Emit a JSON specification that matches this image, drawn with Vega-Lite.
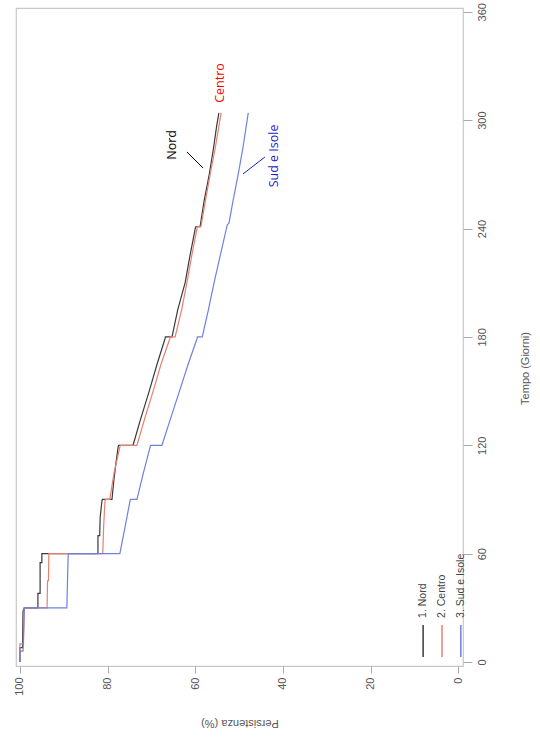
{
  "$schema": "https://vega.github.io/schema/vega-lite/v6.json",
  "autosize": {"type": "none"},
  "padding": {"left": 16, "top": 8, "right": 77, "bottom": 74},
  "width": 447,
  "height": 658,
  "background": "white",
  "config": {"view": {"stroke": "#c8c8c8", "strokeWidth": 1.2}, "font": "Liberation Sans"},
  "datasets": {
    "curves": [
      {"g": "Nord", "t": 0, "p": 100}, {"g": "Nord", "t": 8, "p": 100}, {"g": "Nord", "t": 8, "p": 99.4}, {"g": "Nord", "t": 28, "p": 99.3}, {"g": "Nord", "t": 30, "p": 99.0}, {"g": "Nord", "t": 30, "p": 95.9}, {"g": "Nord", "t": 38, "p": 95.9}, {"g": "Nord", "t": 38, "p": 95.4}, {"g": "Nord", "t": 55, "p": 95.4}, {"g": "Nord", "t": 55, "p": 95.0}, {"g": "Nord", "t": 60, "p": 95.0}, {"g": "Nord", "t": 60, "p": 82.2}, {"g": "Nord", "t": 70, "p": 82.2}, {"g": "Nord", "t": 70, "p": 81.8}, {"g": "Nord", "t": 80, "p": 81.7}, {"g": "Nord", "t": 89, "p": 81.3}, {"g": "Nord", "t": 90, "p": 81.2}, {"g": "Nord", "t": 90, "p": 79.0}, {"g": "Nord", "t": 100, "p": 78.6}, {"g": "Nord", "t": 110, "p": 78.1}, {"g": "Nord", "t": 119, "p": 77.6}, {"g": "Nord", "t": 120, "p": 77.5}, {"g": "Nord", "t": 120, "p": 74.2}, {"g": "Nord", "t": 135, "p": 72.4}, {"g": "Nord", "t": 150, "p": 70.5}, {"g": "Nord", "t": 165, "p": 68.7}, {"g": "Nord", "t": 179, "p": 66.9}, {"g": "Nord", "t": 180, "p": 66.8}, {"g": "Nord", "t": 180, "p": 65.3}, {"g": "Nord", "t": 195, "p": 64.0}, {"g": "Nord", "t": 210, "p": 62.3}, {"g": "Nord", "t": 225, "p": 61.2}, {"g": "Nord", "t": 240, "p": 60.0}, {"g": "Nord", "t": 241, "p": 59.9}, {"g": "Nord", "t": 241, "p": 58.9}, {"g": "Nord", "t": 255, "p": 58.0}, {"g": "Nord", "t": 270, "p": 56.8}, {"g": "Nord", "t": 285, "p": 55.8}, {"g": "Nord", "t": 297, "p": 55.1}, {"g": "Nord", "t": 304, "p": 54.6},
      {"g": "Centro", "t": 0, "p": 100}, {"g": "Centro", "t": 10, "p": 100}, {"g": "Centro", "t": 10, "p": 99.2}, {"g": "Centro", "t": 30, "p": 99.0}, {"g": "Centro", "t": 30, "p": 93.8}, {"g": "Centro", "t": 45, "p": 93.7}, {"g": "Centro", "t": 45, "p": 93.5}, {"g": "Centro", "t": 60, "p": 93.4}, {"g": "Centro", "t": 60, "p": 81.1}, {"g": "Centro", "t": 75, "p": 80.9}, {"g": "Centro", "t": 89, "p": 80.6}, {"g": "Centro", "t": 90, "p": 80.5}, {"g": "Centro", "t": 90, "p": 79.5}, {"g": "Centro", "t": 105, "p": 78.5}, {"g": "Centro", "t": 119, "p": 77.2}, {"g": "Centro", "t": 120, "p": 77.1}, {"g": "Centro", "t": 120, "p": 73.3}, {"g": "Centro", "t": 135, "p": 71.5}, {"g": "Centro", "t": 150, "p": 69.6}, {"g": "Centro", "t": 165, "p": 67.8}, {"g": "Centro", "t": 179, "p": 65.8}, {"g": "Centro", "t": 180, "p": 65.7}, {"g": "Centro", "t": 180, "p": 64.6}, {"g": "Centro", "t": 195, "p": 63.1}, {"g": "Centro", "t": 210, "p": 61.9}, {"g": "Centro", "t": 225, "p": 60.8}, {"g": "Centro", "t": 240, "p": 59.6}, {"g": "Centro", "t": 241, "p": 59.5}, {"g": "Centro", "t": 241, "p": 58.7}, {"g": "Centro", "t": 255, "p": 57.7}, {"g": "Centro", "t": 270, "p": 56.6}, {"g": "Centro", "t": 285, "p": 55.4}, {"g": "Centro", "t": 304, "p": 54.1},
      {"g": "Sud e Isole", "t": 0, "p": 100}, {"g": "Sud e Isole", "t": 6, "p": 100}, {"g": "Sud e Isole", "t": 6, "p": 99.3}, {"g": "Sud e Isole", "t": 30, "p": 99.0}, {"g": "Sud e Isole", "t": 30, "p": 89.3}, {"g": "Sud e Isole", "t": 59, "p": 89.0}, {"g": "Sud e Isole", "t": 60, "p": 88.9}, {"g": "Sud e Isole", "t": 60, "p": 77.2}, {"g": "Sud e Isole", "t": 75, "p": 76.0}, {"g": "Sud e Isole", "t": 89, "p": 74.9}, {"g": "Sud e Isole", "t": 90, "p": 74.8}, {"g": "Sud e Isole", "t": 90, "p": 73.3}, {"g": "Sud e Isole", "t": 105, "p": 71.8}, {"g": "Sud e Isole", "t": 119, "p": 70.3}, {"g": "Sud e Isole", "t": 120, "p": 70.2}, {"g": "Sud e Isole", "t": 120, "p": 67.6}, {"g": "Sud e Isole", "t": 135, "p": 65.6}, {"g": "Sud e Isole", "t": 150, "p": 63.6}, {"g": "Sud e Isole", "t": 165, "p": 61.6}, {"g": "Sud e Isole", "t": 179, "p": 59.6}, {"g": "Sud e Isole", "t": 180, "p": 59.5}, {"g": "Sud e Isole", "t": 180, "p": 58.4}, {"g": "Sud e Isole", "t": 195, "p": 57.0}, {"g": "Sud e Isole", "t": 210, "p": 55.7}, {"g": "Sud e Isole", "t": 225, "p": 54.3}, {"g": "Sud e Isole", "t": 242, "p": 52.7}, {"g": "Sud e Isole", "t": 243, "p": 52.3}, {"g": "Sud e Isole", "t": 255, "p": 51.4}, {"g": "Sud e Isole", "t": 270, "p": 50.2}, {"g": "Sud e Isole", "t": 285, "p": 49.1}, {"g": "Sud e Isole", "t": 304, "p": 47.9}
    ],
    "ann": [
      {"g": "Nord", "label": "Nord", "p": 65.3, "t": 286.3},
      {"g": "Centro", "label": "Centro", "p": 54.3, "t": 320.6},
      {"g": "Sud e Isole", "label": "Sud e Isole", "p": 42.0, "t": 280.2}
    ],
    "lead": [
      {"g": "Nord", "p": 61.9, "t": 282.4, "p2": 58.2, "t2": 273.5},
      {"g": "Sud e Isole", "p": 44.1, "t": 279.6, "p2": 49.1, "t2": 270.2}
    ],
    "leg": [
      {"g": "Nord", "label": "1. Nord", "p": 8.0},
      {"g": "Centro", "label": "2. Centro", "p": 3.7},
      {"g": "Sud e Isole", "label": "3. Sud e Isole", "p": -0.6}
    ]
  },
  "layer": [
    {
      "data": {"name": "curves"},
      "mark": {"type": "line", "strokeWidth": 1.2},
      "encoding": {
        "x": {
          "field": "p", "type": "quantitative",
          "scale": {"domain": [-1.1, 100.9], "reverse": true, "nice": false, "zero": false},
          "axis": {
            "title": "Persistenza (%)", "values": [0, 20, 40, 60, 80, 100],
            "labelAngle": 270, "labelFontSize": 11, "labelColor": "#555555", "labelPadding": 4,
            "tickSize": 7, "tickColor": "#aaaaaa", "domain": false, "grid": false,
            "titleAngle": 180, "titleFontSize": 11, "titleFontWeight": "normal", "titleColor": "#555555",
            "titleY": 56, "titleBaseline": "middle", "titleAlign": "center"
          }
        },
        "y": {
          "field": "t", "type": "quantitative",
          "scale": {"domain": [-2.2, 362.1], "nice": false, "zero": false},
          "axis": {
            "orient": "right", "title": "Tempo (Giorni)", "values": [0, 60, 120, 180, 240, 300, 360],
            "labelAngle": 270, "labelFontSize": 11, "labelColor": "#555555", "labelPadding": 4,
            "tickSize": 9, "tickColor": "#aaaaaa", "domain": false, "grid": false,
            "titleAngle": 270, "titleFontSize": 11, "titleFontWeight": "normal", "titleColor": "#555555",
            "titleX": 62, "titleY": 360, "titleBaseline": "middle", "titleAlign": "center"
          }
        },
        "color": {
          "field": "g", "type": "nominal",
          "scale": {"domain": ["Nord", "Centro", "Sud e Isole"], "range": ["#3a3a3a", "#e8806f", "#7080e0"]},
          "legend": null
        },
        "order": [{"field": "p", "sort": "descending"}, {"field": "t", "sort": "ascending"}]
      }
    },
    {
      "data": {"name": "lead"},
      "mark": {"type": "rule", "strokeWidth": 1},
      "encoding": {
        "x": {"field": "p", "type": "quantitative"},
        "x2": {"field": "p2"},
        "y": {"field": "t", "type": "quantitative"},
        "y2": {"field": "t2"},
        "color": {
          "field": "g", "type": "nominal",
          "scale": {"domain": ["Nord", "Sud e Isole"], "range": ["#000000", "#1a1acc"]},
          "legend": null
        }
      }
    },
    {
      "data": {"name": "ann"},
      "mark": {"type": "text", "angle": 270, "fontSize": 12.5, "font": "Open Sans", "align": "center", "baseline": "middle"},
      "encoding": {
        "x": {"field": "p", "type": "quantitative"},
        "y": {"field": "t", "type": "quantitative"},
        "text": {"field": "label"},
        "color": {
          "field": "g", "type": "nominal",
          "scale": {"domain": ["Nord", "Centro", "Sud e Isole"], "range": ["#000000", "#ff0000", "#1a1acc"]},
          "legend": null
        }
      }
    },
    {
      "data": {"name": "leg"},
      "mark": {"type": "rule", "strokeWidth": 1.5},
      "encoding": {
        "x": {"field": "p", "type": "quantitative"},
        "y": {"datum": 2.8},
        "y2": {"datum": 20.5},
        "color": {
          "field": "g", "type": "nominal",
          "scale": {"domain": ["Nord", "Centro", "Sud e Isole"], "range": ["#3a3a3a", "#e8806f", "#7080e0"]},
          "legend": null
        }
      }
    },
    {
      "data": {"name": "leg"},
      "mark": {"type": "text", "angle": 270, "fontSize": 10.5, "align": "left", "baseline": "middle", "color": "#444444"},
      "encoding": {
        "x": {"field": "p", "type": "quantitative"},
        "y": {"datum": 24.4},
        "text": {"field": "label"}
      }
    }
  ],
  "resolve": {"scale": {"color": "independent"}}
}
